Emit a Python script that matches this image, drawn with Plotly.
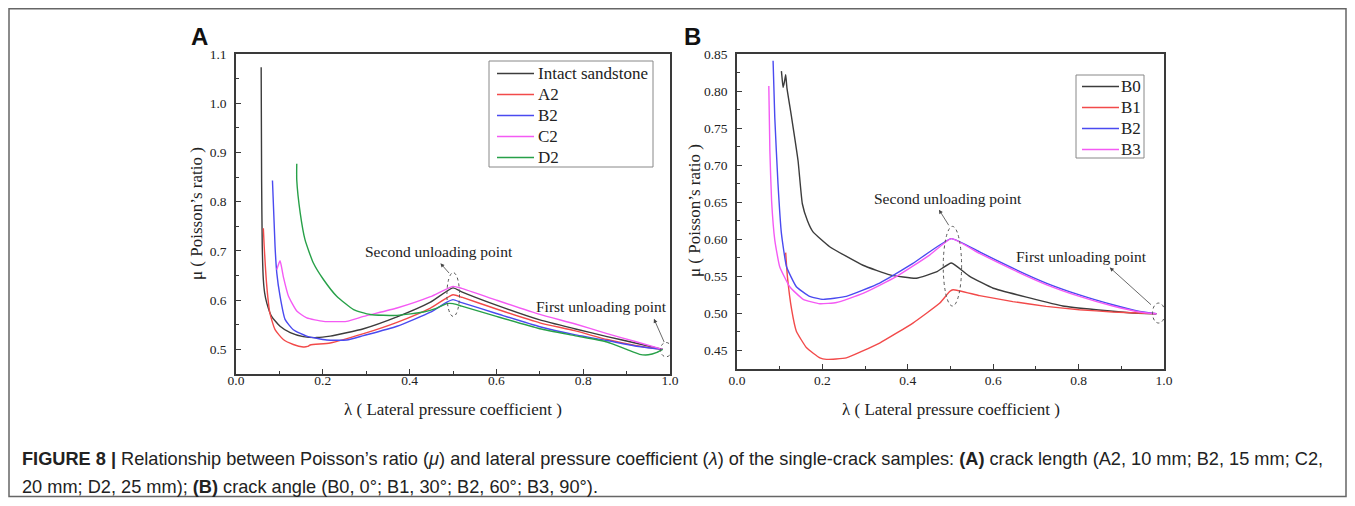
import plotly.graph_objects as go

# ── Data ─────────────────────────────────────────────────────────────────────

# Panel A: crack length
A_INTACT_X = [0.058, 0.059, 0.0605, 0.063, 0.066, 0.071, 0.082, 0.1015, 0.125, 0.155, 0.186, 0.217, 0.294,
              0.371, 0.448, 0.50, 0.52, 0.60, 0.70, 0.78, 0.855, 0.92, 0.983]
A_INTACT_Y = [1.073, 0.844, 0.709, 0.642, 0.615, 0.594, 0.567, 0.547, 0.534, 0.526, 0.524, 0.527, 0.542,
              0.566, 0.596, 0.625, 0.617, 0.590, 0.560, 0.542, 0.526, 0.513, 0.500]

A_A2_X = [0.063, 0.065, 0.071, 0.078, 0.090, 0.109, 0.132, 0.155, 0.165, 0.171, 0.217, 0.294, 0.371, 0.448,
          0.50, 0.52, 0.60, 0.70, 0.78, 0.855, 0.92, 0.983]
A_A2_Y = [0.746, 0.709, 0.628, 0.574, 0.540, 0.520, 0.510, 0.505, 0.506, 0.509, 0.513, 0.532, 0.555, 0.584,
          0.611, 0.606, 0.582, 0.554, 0.538, 0.520, 0.508, 0.500]

A_B2_X = [0.084, 0.09, 0.094, 0.1015, 0.113, 0.132, 0.163, 0.209, 0.255, 0.294, 0.371, 0.448, 0.486, 0.50,
          0.52, 0.60, 0.70, 0.78, 0.855, 0.92, 0.983]
A_B2_Y = [0.843, 0.709, 0.655, 0.608, 0.561, 0.540, 0.527, 0.519, 0.519, 0.528, 0.547, 0.5755, 0.596, 0.601,
          0.595, 0.573, 0.546, 0.530, 0.518, 0.507, 0.500]

A_C2_X = [0.094, 0.1015, 0.109, 0.121, 0.14, 0.163, 0.2015, 0.255, 0.294, 0.371, 0.448, 0.50, 0.52, 0.60,
          0.70, 0.78, 0.855, 0.92, 0.983]
A_C2_Y = [0.662, 0.680, 0.648, 0.608, 0.578, 0.564, 0.557, 0.557, 0.567, 0.584, 0.607, 0.628, 0.624, 0.600,
          0.571, 0.552, 0.532, 0.516, 0.500]

A_D2_X = [0.14, 0.14, 0.148, 0.159, 0.178, 0.2015, 0.232, 0.271, 0.309, 0.371, 0.432, 0.463, 0.486, 0.50,
          0.52, 0.60, 0.70, 0.78, 0.855, 0.90, 0.93, 0.95, 0.97, 0.983]
A_D2_Y = [0.877, 0.844, 0.777, 0.723, 0.676, 0.642, 0.608, 0.581, 0.571, 0.569, 0.576, 0.584, 0.593, 0.593,
          0.588, 0.567, 0.542, 0.528, 0.515, 0.500, 0.490, 0.489, 0.494, 0.500]

# Panel B: crack angle
B_B0_X = [0.104, 0.106, 0.108, 0.111, 0.114, 0.117, 0.128, 0.143, 0.153, 0.165, 0.178, 0.217, 0.295, 0.358,
          0.420, 0.467, 0.502, 0.545, 0.60, 0.685, 0.763, 0.841, 0.919, 0.982]
B_B0_Y = [0.827, 0.815, 0.805, 0.812, 0.822, 0.804, 0.764, 0.706, 0.648, 0.625, 0.610, 0.590, 0.565, 0.552,
          0.5475, 0.556, 0.568, 0.550, 0.534, 0.521, 0.510, 0.505, 0.501, 0.4996]

B_B1_X = [0.114, 0.118, 0.128, 0.139, 0.163, 0.194, 0.2095, 0.256, 0.334, 0.412, 0.475, 0.498, 0.506, 0.568,
          0.646, 0.724, 0.802, 0.880, 0.982]
B_B1_Y = [0.582, 0.550, 0.505, 0.476, 0.4536, 0.440, 0.438, 0.440, 0.460, 0.487, 0.514, 0.5295, 0.532, 0.524,
          0.516, 0.5095, 0.505, 0.502, 0.4996]

B_B2_X = [0.0845, 0.0885, 0.096, 0.104, 0.116, 0.139, 0.170, 0.2015, 0.256, 0.334, 0.412, 0.502, 0.568, 0.646,
          0.724, 0.802, 0.880, 0.943, 0.982]
B_B2_Y = [0.841, 0.764, 0.675, 0.608, 0.563, 0.536, 0.523, 0.519, 0.523, 0.541, 0.5675, 0.601, 0.583, 0.561,
          0.541, 0.525, 0.5117, 0.5027, 0.4996]

B_B3_X = [0.0745, 0.077, 0.081, 0.0885, 0.100, 0.1235, 0.155, 0.194, 0.233, 0.295, 0.373, 0.451, 0.502, 0.568,
          0.646, 0.724, 0.802, 0.880, 0.943, 0.982]
B_B3_Y = [0.807, 0.719, 0.652, 0.599, 0.563, 0.536, 0.519, 0.513, 0.5147, 0.527, 0.5496, 0.5787, 0.601, 0.581,
          0.559, 0.539, 0.523, 0.510, 0.502, 0.4996]

# ── Style ────────────────────────────────────────────────────────────────────

SERIF = "Liberation Serif, Times New Roman, serif"
SANS = "Liberation Sans, Arial, sans-serif"
AXIS = "#3a3a3a"
TXT = "#222"
BLACK = "#3c3c3c"
RED = "#f24a4a"
BLUE = "#4a4af0"
PINK = "#f45af4"
GREEN = "#27a048"

# the page body has an 8px margin, so the figure is 16px smaller than the window
OFF = 8
W, H = 1355 - 2 * OFF, 506 - 2 * OFF


def px_x(v):
    return (v - OFF) / W


def px_y(v):
    return 1 - (v - OFF) / H


fig = go.Figure()

series_a = [
    ("Intact sandstone", A_INTACT_X, A_INTACT_Y, BLACK),
    ("A2", A_A2_X, A_A2_Y, RED),
    ("B2", A_B2_X, A_B2_Y, BLUE),
    ("C2", A_C2_X, A_C2_Y, PINK),
    ("D2", A_D2_X, A_D2_Y, GREEN),
]
for name, xs, ys, col in series_a:
    fig.add_trace(go.Scatter(x=xs, y=ys, mode="lines", name=name, xaxis="x", yaxis="y",
                             line=dict(color=col, width=1.4, shape="spline", smoothing=0.5),
                             showlegend=False))

series_b = [
    ("B0", B_B0_X, B_B0_Y, BLACK),
    ("B1", B_B1_X, B_B1_Y, RED),
    ("B2", B_B2_X, B_B2_Y, BLUE),
    ("B3", B_B3_X, B_B3_Y, PINK),
]
for name, xs, ys, col in series_b:
    fig.add_trace(go.Scatter(x=xs, y=ys, mode="lines", name=name, xaxis="x2", yaxis="y2",
                             line=dict(color=col, width=1.4, shape="spline", smoothing=0.4),
                             showlegend=False))

axis_common = dict(
    showline=True, linecolor=AXIS, linewidth=1.5, mirror=True,
    ticks="inside", ticklen=5, tickwidth=1.2, tickcolor=AXIS,
    showgrid=False, zeroline=False, automargin=False,
    tickfont=dict(family=SERIF, size=13.5, color=TXT),
)

fig.update_layout(
    width=W, height=H,
    paper_bgcolor="white", plot_bgcolor="white",
    margin=dict(l=0, r=0, t=0, b=0, autoexpand=False),
    xaxis=dict(**axis_common, domain=[px_x(236), px_x(670)], range=[0, 1.0], dtick=0.2, tickformat=".1f",
               ticklabelstandoff=-7,
               minor=dict(dtick=0.1, ticks="inside", ticklen=3, tickcolor=AXIS), anchor="y"),
    yaxis=dict(**axis_common, domain=[px_y(374), px_y(54)], range=[0.45, 1.1001], dtick=0.1, tick0=0,
               tickformat=".1f", ticklabelstandoff=5,
               minor=dict(dtick=0.05, ticks="inside", ticklen=3, tickcolor=AXIS), anchor="x"),
    xaxis2=dict(**axis_common, domain=[px_x(737), px_x(1164)], range=[0, 1.0], dtick=0.2, tickformat=".1f",
                ticklabelstandoff=-2,
                minor=dict(dtick=0.1, ticks="inside", ticklen=3, tickcolor=AXIS), anchor="y2"),
    yaxis2=dict(**axis_common, domain=[px_y(369), px_y(54)], range=[0.425, 0.8501], dtick=0.05, tick0=0,
                tickformat=".2f", ticklabelstandoff=5,
                minor=dict(dtick=0.025, ticks="inside", ticklen=3, tickcolor=AXIS), anchor="x2"),
)

PAPER = dict(xref="paper", yref="paper", showarrow=False, yanchor="middle")

# ── Legends (drawn by hand to match spacing) ─────────────────────────────────


def draw_legend(box, line_x, text_x, rows, entries):
    x0, y0, x1, y1 = box
    fig.add_shape(type="rect", xref="paper", yref="paper", x0=px_x(x0), x1=px_x(x1), y0=px_y(y1), y1=px_y(y0),
                  line=dict(color="#888", width=1), fillcolor="white", layer="above")
    for (name, col), ry in zip(entries, rows):
        fig.add_shape(type="line", xref="paper", yref="paper", x0=px_x(line_x[0]), x1=px_x(line_x[1]),
                      y0=px_y(ry), y1=px_y(ry), line=dict(color=col, width=1.6), layer="above")
        fig.add_annotation(**PAPER, x=px_x(text_x), y=px_y(ry), xanchor="left",
                           text=name, font=dict(family=SERIF, size=17, color=TXT))


draw_legend((489, 61, 653, 167), (497, 534), 536, [73.5, 94.5, 115.5, 136.5, 157.5],
            [(n, c) for n, _, _, c in series_a])
draw_legend((1076, 75, 1144, 158), (1082, 1119), 1119, [86.5, 107.5, 128.5, 149.5],
            [(n, c) for n, _, _, c in series_b])

# ── Unloading point markers (dashed ellipses + arrows) ───────────────────────

ELL = dict(type="circle", line=dict(color="#555", width=1, dash="dot"))
fig.add_shape(**ELL, xref="x", yref="y", x0=0.486, x1=0.515, y0=0.567, y1=0.656)
fig.add_shape(**ELL, xref="x", yref="y", x0=0.978, x1=1.004, y0=0.485, y1=0.514)
fig.add_shape(**ELL, xref="x2", yref="y2", x0=0.483, x1=0.526, y0=0.510, y1=0.6175)
fig.add_shape(**ELL, xref="x2", yref="y2", x0=0.973, x1=1.002, y0=0.487, y1=0.514)

ARROW = dict(text="", showarrow=True, arrowhead=2, arrowsize=1, arrowwidth=0.8, arrowcolor="#444")
fig.add_annotation(**ARROW, xref="x", yref="y", axref="x", ayref="y",
                   x=0.471, y=0.675, ax=0.494, ay=0.652)
fig.add_annotation(**ARROW, xref="x", yref="y", axref="x", ayref="y",
                   x=0.963, y=0.562, ax=0.988, ay=0.512)
fig.add_annotation(**ARROW, xref="x2", yref="y2", axref="x2", ayref="y2",
                   x=0.473, y=0.640, ax=0.498, ay=0.617)
fig.add_annotation(**ARROW, xref="x2", yref="y2", axref="x2", ayref="y2",
                   x=0.873, y=0.562, ax=0.973, ay=0.510)

NOTE = dict(showarrow=False, xanchor="center", yanchor="middle", font=dict(family=SERIF, size=15.5, color=TXT))
fig.add_annotation(**NOTE, xref="x", yref="y", x=0.467, y=0.698, text="Second unloading point")
fig.add_annotation(**NOTE, xref="x", yref="y", x=0.843, y=0.588, text="First unloading point")
fig.add_annotation(**NOTE, xref="x2", yref="y2", x=0.4935, y=0.6555, text="Second unloading point")
fig.add_annotation(**NOTE, xref="x2", yref="y2", x=0.807, y=0.577, text="First unloading point")

# ── Axis titles and panel letters ────────────────────────────────────────────

TITLE = dict(**PAPER, xanchor="center", font=dict(family=SERIF, size=17, color=TXT))
fig.add_annotation(**TITLE, x=px_x(453), y=px_y(409), text="λ ( Lateral pressure coefficient )")
fig.add_annotation(**TITLE, x=px_x(951), y=px_y(409), text="λ ( Lateral pressure coefficient )")
fig.add_annotation(**TITLE, x=px_x(197), y=px_y(214), text="μ ( Poisson’s ratio )", textangle=-90)
fig.add_annotation(**TITLE, x=px_x(694), y=px_y(211), text="μ ( Poisson’s ratio )", textangle=-90)

LETTER = dict(**PAPER, xanchor="center", font=dict(family=SANS, size=24, color="#111"))
fig.add_annotation(**LETTER, x=px_x(199), y=px_y(36), text="<b>A</b>")
fig.add_annotation(**LETTER, x=px_x(692), y=px_y(36), text="<b>B</b>")

# ── Caption and frame ────────────────────────────────────────────────────────

CAP = dict(**PAPER, xanchor="left", font=dict(family=SANS, size=18.2, color=TXT))
fig.add_annotation(**CAP, x=px_x(20), y=px_y(459),
                   text="<b>FIGURE 8 |</b> Relationship between Poisson’s ratio (<i>μ</i>) and lateral pressure "
                        "coefficient (<i>λ</i>) of the single-crack samples: <b>(A)</b> crack length (A2, 10 mm; "
                        "B2, 15 mm; C2,")
fig.add_annotation(**CAP, x=px_x(20), y=px_y(487),
                   text="20 mm; D2, 25 mm); <b>(B)</b> crack angle (B0, 0°; B1, 30°; B2, 60°; B3, 90°).")

fig.add_shape(type="rect", xref="paper", yref="paper", x0=px_x(9), x1=px_x(1346), y0=px_y(496.5),
              y1=px_y(8.8), line=dict(color="#666", width=1.5), layer="below")

fig.write_html("out.html")
